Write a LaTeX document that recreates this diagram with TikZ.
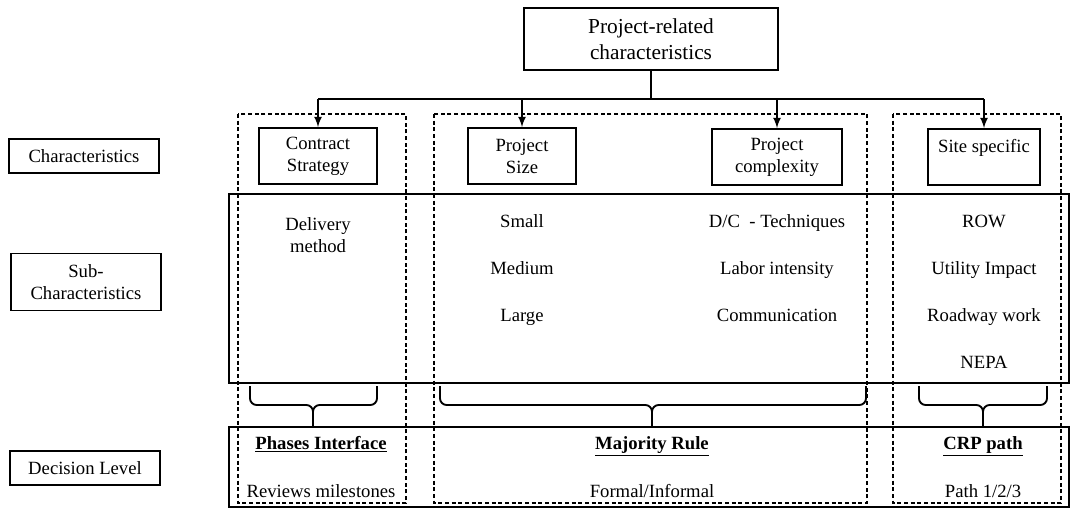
\documentclass[tikz,border=0pt]{standalone}
\usepackage{fontspec}
\setmainfont{Liberation Serif}
\usetikzlibrary{arrows}

\begin{document}
\begin{tikzpicture}[x=0.75pt, y=-0.75pt,
		every node/.style={font=\fontsize{14}{16.5}\selectfont, align=center},
		box/.style={draw, line width=1.4pt, inner sep=1pt},
		band/.style={draw, line width=1.2pt, inner sep=0pt},
		group/.style={draw, line width=0.8pt, dash pattern=on 3pt off 2pt},
		item/.style={text height=10pt, text depth=3pt},
		head/.style={item, font=\fontsize{14}{16.5}\selectfont\bfseries},
		link/.style={line width=1.6pt},
		brc/.style={line width=1.4pt, rounded corners=5pt},
	]
	\useasboundingbox (0,0) rectangle (1071,508);

	\node[box, minimum width=191pt, minimum height=47pt, font=\fontsize{16}{19.5}\selectfont] (prc) at (651,39) {Project-related\\characteristics};
	\node[box, minimum width=88.5pt, minimum height=42pt] (cs) at (318,156) {Contract\\Strategy};
	\node[box, minimum width=81pt, minimum height=42pt] (ps) at (522,156) {Project\\Size};
	\node[box, minimum width=97.5pt, minimum height=42pt] (pc) at (777,157) {Project\\complexity};
	\node[box, minimum width=84pt, minimum height=42pt] (ss) at (984,157) {Site specific\\~};

	\node[box, minimum width=112.5pt, minimum height=25.5pt] (lchar) at (84,156) {Characteristics};
	\node[box, minimum width=112.5pt, minimum height=42.75pt] (lsub) at (86,282) {Sub-\\Characteristics};
	\node[box, minimum width=113pt, minimum height=25.5pt] (ldec) at (85,468) {Decision Level};

	\node[band, minimum width=630pt, minimum height=141.75pt] (sub) at (649,288.5) {};
	\node[band, minimum width=630pt, minimum height=60pt] (dec) at (649,467) {};

	\draw[group] (238,114) rectangle (406,503);
	\draw[group] (434,114) rectangle (867,503);
	\draw[group] (893,114) rectangle (1061,503);

	\draw[link] (prc.south) -- ++(0,28) coordinate (hub);
	\draw[link] (hub -| cs.north) -- (hub -| ss.north);
	\foreach \n in {cs, ps, pc, ss}
		\draw[link, -latex] (hub -| \n.north) -- (\n.north);

	\node (dm) at (318,235) {Delivery\\method};
	\foreach \t [count=\i] in {Small, Medium, Large}
		\node[item] (sz\i) at (522,{223+47*(\i-1)}) {\t};
	\foreach \t [count=\i] in {D/C\ \ - Techniques, Labor intensity, Communication}
		\node[item] (cx\i) at (777,{223+47*(\i-1)}) {\t};
	\foreach \t [count=\i] in {ROW, Utility Impact, Roadway work, NEPA}
		\node[item] (st\i) at (984,{223+47*(\i-1)}) {\t};

	\foreach \l/\m/\r in {250/313/377, 440/652/866, 919/983/1047} {
		\draw[brc] (\l,386) -- (\l,405) -- (\m,405) -- (\m,405 |- dec.north);
		\draw[brc] (\r,386) -- (\r,405) -- (\m,405) -- (\m,405 |- dec.north);
	}

	\node[head] (phi) at (321,445) {\underline{Phases Interface}};
	\node[item] (rvm) at (321,493) {Reviews milestones};
	\node[head] (mjr) at (652,445) {\underline{Majority Rule}};
	\node[item] (fin) at (652,493) {Formal/Informal};
	\node[head] (crp) at (983,445) {\underline{CRP path}};
	\node[item] (pth) at (983,493) {Path 1/2/3};
\end{tikzpicture}
\end{document}
